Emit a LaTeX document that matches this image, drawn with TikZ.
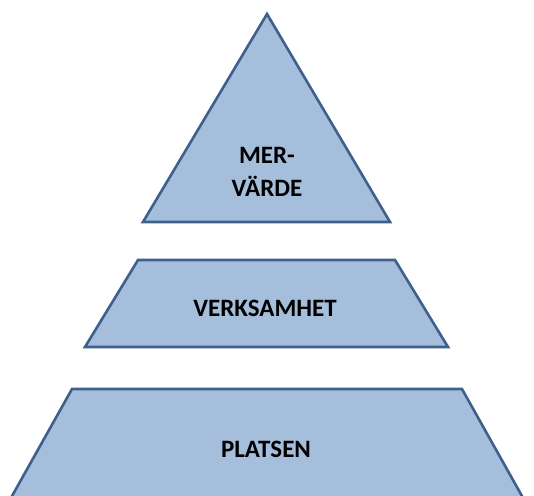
\documentclass[tikz,border=0pt]{standalone}
\usepackage{fontspec}
\setmainfont{Carlito}
\usetikzlibrary{positioning}
\definecolor{lagerfyll}{RGB}{165,190,220}
\definecolor{lagerkant}{RGB}{62,96,140}

\begin{document}
\begin{tikzpicture}[x=1pt,y=-1pt]
\tikzstyle{lager}=[fill=lagerfyll,draw=lagerkant,line width=2.6pt,line join=miter];
\tikzstyle{every node}=[font=\bfseries\fontsize{25}{33}\selectfont,text=black,align=center];

  \useasboundingbox (0,0) rectangle (534,495);
  \clip (0,0) rectangle (534,495);

  % topp
  \draw[lager] (267,14) -- (390,222) -- (143,222) -- cycle;
  % mitten
  \draw[lager] (138,260) -- (395,260) -- (448,347) -- (85,347) -- cycle;
  % botten
  \draw[lager] (72,389) -- (462,389) -- (527,505) -- (7,505) -- cycle;

  \node(mervarde) at (267,172) {MER-\\VÄRDE};
  \node(verksamhet) at (265,308) {VERKSAMHET};
  \node(platsen) at (266,449) {PLATSEN};
\end{tikzpicture}
\end{document}
